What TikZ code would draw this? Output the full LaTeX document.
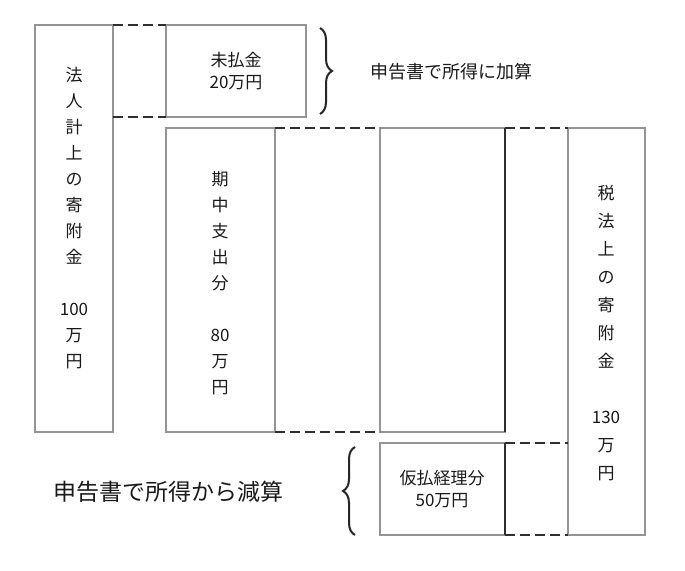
\documentclass[tikz,border=0pt]{standalone}
\usepackage{fontspec}
\newfontfamily\cjk{Noto Sans CJK JP}
\usetikzlibrary{decorations.pathreplacing}
\tikzset{
 bx/.style={draw=black!42,line width=2pt},
 dl/.style={draw=black!82,line width=2.2pt,dash pattern=on 10pt off 5pt},
 sl/.style={draw=black!82,line width=1.6pt},
 br/.style={draw=black!85,line width=2pt,decorate,decoration={brace,amplitude=12pt}},
 tx/.style={font=\cjk\fontsize{17}{26}\selectfont,align=center,text=black!90}
}
\begin{document}
\begin{tikzpicture}[x=1pt,y=-1pt]
\useasboundingbox (0,0) rectangle (685,570);
\draw[bx] (35,25) rectangle (113,432);
\draw[bx] (166,25) rectangle (306,117);
\draw[bx] (166,128) rectangle (275,432);
\draw[bx] (380,128) rectangle (505,432);
\draw[bx] (568,128) rectangle (645,535);
\draw[bx] (380,443) rectangle (505,535);
\draw[sl] (505,128) -- (505,432);
\draw[sl] (505,443) -- (505,535);
\coordinate (a1) at (113,25); \coordinate (b1) at (166,25);
\coordinate (a2) at (113,117); \coordinate (b2) at (166,117);
\coordinate (c1) at (275,128); \coordinate (d1) at (380,128);
\coordinate (c2) at (275,432); \coordinate (d2) at (380,432);
\coordinate (d3) at (505,128); \coordinate (e1) at (568,128);
\coordinate (f1) at (505,443); \coordinate (e2) at (568,443);
\coordinate (f2) at (505,535); \coordinate (e3) at (568,535);
\draw[dl] (a1)--(b1); \draw[dl] (a2)--(b2);
\draw[dl] (c1)--(d1); \draw[dl] (c2)--(d2);
\draw[dl] (d3)--(e1); \draw[dl] (f1)--(e2); \draw[dl] (f2)--(e3);
\node[tx] (na) at (74,218) {法\\人\\計\\上\\の\\寄\\附\\金\\[26pt]100\\万\\円};
\node[tx] (nb) at (236,71) {未払金\\[-4pt]20万円};
\node[tx] (nc) at (220,283) {期\\中\\支\\出\\分\\[26pt]80\\万\\円};
\node[tx,font=\cjk\fontsize{17}{28}\selectfont] (ne) at (606,333) {税\\法\\上\\の\\寄\\附\\金\\[28pt]130\\万\\円};
\node[tx] (nf) at (442,489) {仮払経理分\\[-4pt]50万円};
\draw[br] (320,28) -- (320,114);
\node[tx,font=\cjk\fontsize{18}{20}\selectfont,anchor=west] (l1) at (367,72) {申告書で所得に加算};
\draw[br] (355,535) -- (355,447);
\node[tx,font=\cjk\fontsize{23}{24}\selectfont,anchor=west] (l2) at (50,492) {申告書で所得から減算};
\end{tikzpicture}
\end{document}
